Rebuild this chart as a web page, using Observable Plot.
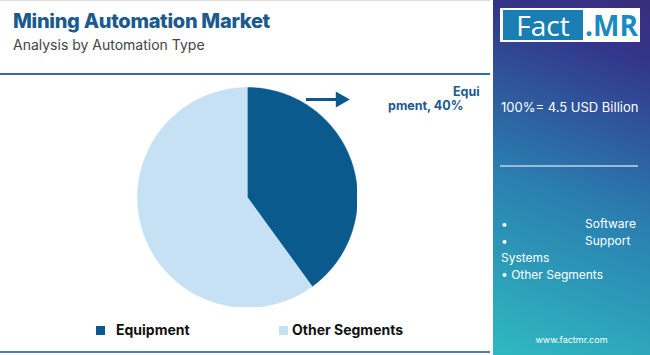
<!DOCTYPE html>
<html><head><meta charset="utf-8">
<script src="https://cdn.jsdelivr.net/npm/d3@7"></script>
<script src="https://cdn.jsdelivr.net/npm/@observablehq/plot@0.6"></script>
<style>
body{margin:0;width:650px;height:355px;overflow:hidden;background:#fff;font-family:Inter,"Open Sans",sans-serif;position:relative}
.abs{position:absolute}
#title{left:13px;top:9px;font-size:20px;font-weight:800;color:#1b5a8e;letter-spacing:-0.3px;white-space:nowrap}
#sub{left:13px;top:36px;font-size:14px;color:#444;white-space:nowrap}
#hline{left:0;top:73px;width:490px;height:2px;background:#2e6fa6}
#bline{left:0;top:351px;width:490px;height:2px;background:#4a7fae}
#tline{left:0;top:0;width:490px;height:1px;background:#ddd}
#panel{left:493px;top:0;width:157px;height:355px;background:linear-gradient(20deg,#2fb9c0 0%,#2a7fb0 45%,#33358a 85%,#3a2d7c 100%)}
#logo{left:500px;top:8px;width:140px;height:34px;background:#fff}
#fact{left:503px;top:10px;width:80px;height:30px;background:#1a7db3;color:#fff;font-size:28px;line-height:30px;text-align:center;font-family:"Open Sans",sans-serif}
#mr{left:585px;top:10px;font-size:28px;line-height:30px;color:#1a8bc0;font-weight:700;font-family:"Open Sans",sans-serif}
#tot{left:501px;top:99px;color:#fff;font-size:13px;white-space:nowrap}
#pline{left:500px;top:165px;width:138px;height:2px;background:#9fb9dd}
.seg{color:#fff;font-size:12px;line-height:17px;white-space:nowrap}
#url{left:493px;width:157px;top:334px;text-align:center;color:#fff;font-size:9px}
.leg{font-size:14px;font-weight:700;color:#111;white-space:nowrap}
.sw{width:9px;height:9px}
.lab{color:#1b5a8e;font-weight:700;font-size:12.5px;white-space:nowrap}
</style></head>
<body>
<div id="tline" class="abs"></div>
<div id="title" class="abs">Mining Automation Market</div>
<div id="sub" class="abs">Analysis by Automation Type</div>
<div id="hline" class="abs"></div>
<div id="chart" class="abs" style="left:137px;top:87px"></div>
<div id="arrow" class="abs" style="left:300px;top:89px"></div>
<div class="abs lab" style="left:453px;top:84px">Equi</div>
<div class="abs lab" style="left:388px;top:98px">pment, 40%</div>
<div class="abs sw" style="left:96px;top:326px;background:#0a5a8e"></div>
<div class="abs leg" style="left:116px;top:321px">Equipment</div>
<div class="abs sw" style="left:279px;top:326px;background:#c5e1f3"></div>
<div class="abs leg" style="left:292px;top:321px">Other Segments</div>
<div id="bline" class="abs"></div>
<div id="panel" class="abs"></div>
<div id="logo" class="abs"></div>
<div id="fact" class="abs">Fact</div>
<div id="mr" class="abs">.MR</div>
<div id="tot" class="abs">100%= 4.5 USD Billion</div>
<div id="pline" class="abs"></div>
<div class="abs seg" style="left:501px;top:215px">•</div>
<div class="abs seg" style="left:585px;top:215px">Software</div>
<div class="abs seg" style="left:501px;top:232px">•</div>
<div class="abs seg" style="left:585px;top:232px">Support</div>
<div class="abs seg" style="left:501px;top:249px">Systems</div>
<div class="abs seg" style="left:501px;top:266px">• Other Segments</div>
<div id="url" class="abs">www.factmr.com</div>
<script>
const categories = ["Equipment", "Other Segments"];
const shares = [40, 60];
const colors = ["#0a5a8e", "#c5e1f3"];

const pie = d3.pie().sort(null).value(d => d.share)(categories.map((c, i) => ({category: c, share: shares[i]})));
const pts = [];
for (const a of pie) {
  const n = 120;
  pts.push({category: a.data.category, x: 0, y: 0});
  for (let k = 0; k <= n; k++) {
    const t = a.startAngle + (a.endAngle - a.startAngle) * k / n;
    pts.push({category: a.data.category, x: Math.sin(t), y: Math.cos(t)});
  }
}
const chart = Plot.plot({
  width: 220, height: 220, margin: 0,
  x: {domain: [-1, 1], axis: null},
  y: {domain: [-1, 1], axis: null},
  marks: categories.map((c, i) => Plot.line(pts.filter(p => p.category === c), {x: "x", y: "y", fill: colors[i], stroke: colors[i], strokeWidth: 0.5, curve: "linear"}))
});
document.getElementById("chart").appendChild(chart);

const arrowData = [{x1: 6, x2: 38, xh: 40, y: 10}];
const arrow = Plot.plot({
  width: 50, height: 20, margin: 0,
  x: {domain: [0, 50], axis: null}, y: {domain: [0, 20], axis: null},
  marks: [
    Plot.ruleY(arrowData, {x1: "x1", x2: "x2", y: "y", stroke: "#0a5a8e", strokeWidth: 3}),
    Plot.dot(arrowData, {x: "xh", y: "y", symbol: "triangle", r: 6, rotate: 90, fill: "#0a5a8e", stroke: "none"})
  ]
});
document.getElementById("arrow").appendChild(arrow);
</script>
</body></html>
